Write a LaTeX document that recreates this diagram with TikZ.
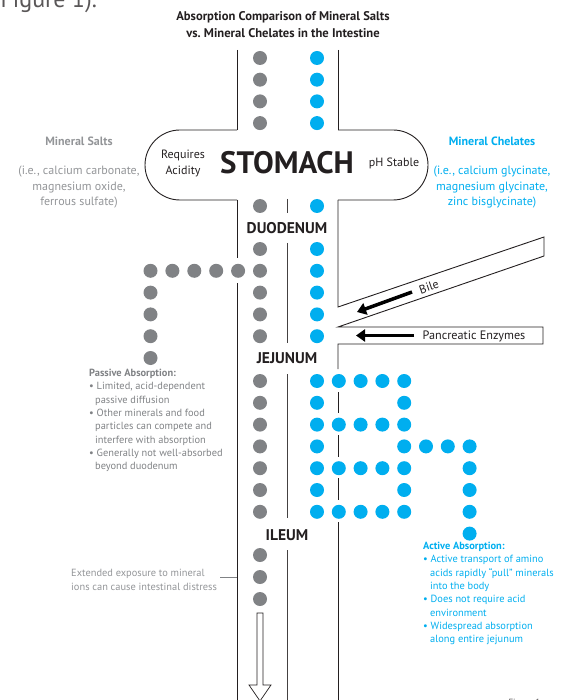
\documentclass[tikz,border=0pt]{standalone}
\usepackage{fontspec}
\setmainfont{PT Sans}
\usetikzlibrary{arrows.meta}
\definecolor{saltgray}{HTML}{808285}
\definecolor{labelgray}{HTML}{939598}
\definecolor{chelblue}{HTML}{00AEEF}
\definecolor{inkdark}{HTML}{231F20}
\tikzstyle{saltdot} = [circle, fill=saltgray, minimum size=14pt, inner sep=0pt]
\tikzstyle{chelatedot} = [circle, fill=chelblue, minimum size=14pt, inner sep=0pt]
\tikzstyle{wall} = [line width=0.9pt, draw=inkdark]
\tikzstyle{divider} = [line width=0.8pt, draw=inkdark!85]
\tikzstyle{organ} = [font=\fontsize{15.5}{16}\selectfont\bfseries, text=inkdark]
\tikzstyle{sidetext} = [font=\fontsize{12}{15.5}\selectfont, align=center]
\tikzstyle{notetext} = [font=\fontsize{10.4}{13.3}\selectfont, align=left, inner sep=0pt, anchor=north west]
\tikzstyle{flowarrow} = [line width=3.5pt, draw=black, -{Triangle[length=9pt,width=12pt]}]

\begin{document}
\begin{tikzpicture}[x=1pt, y=-1pt]
\useasboundingbox (0,0) rectangle (560,700);

% captions cut by the page edge
\node (figtop) [anchor=base west, font=\fontsize{24}{24}\selectfont, text=inkdark!75] at (-3,8) {Figure 1).};
\node (figbot) [anchor=north west, font=\fontsize{9}{9}\selectfont, text=inkdark!75] at (505,696) {Figure 1};

\node (title) [font=\fontsize{12.6}{17}\selectfont\bfseries, text=inkdark, align=center] at (283,24.5) {Absorption Comparison of Mineral Salts\\vs.\ Mineral Chelates in the Intestine};

% stomach and tract walls
\draw [wall] (237,50) -- (237,130);
\draw [wall] (338,50) -- (338,130);
\draw [wall, rounded corners=35pt] (237,130) -- (145,130) -- (145,200) -- (237,200);
\draw [wall, rounded corners=35pt] (338,130) -- (428,130) -- (428,200) -- (338,200);
\draw [wall] (237,200) -- (237,258);
\draw [wall] (237,283) -- (237,700);
\draw [wall] (338,200) -- (338,307) -- (544,237) -- (544,256) -- (338,327) -- (543,327) -- (543,344) -- (338,344) -- (338,369);
\draw [wall] (338,392) -- (338,413);
\draw [wall] (338,435) -- (338,457);
\draw [wall] (338,478) -- (338,500);
\draw [wall] (338,522) -- (338,700);

\draw [divider] (287,199) -- (287,213);
\draw [divider] (287,243) -- (287,343);
\draw [divider] (287,374) -- (287,518);
\draw [divider] (287,550) -- (287,700);

\node (stomach) [font=\fontsize{31}{31}\selectfont\bfseries, text=inkdark] at (287,163) {STOMACH};
\node (acid) [sidetext, text=inkdark, font=\fontsize{12}{16}\selectfont] at (183,163) {Requires\\Acidity};
\node (stable) [sidetext, text=inkdark] at (394,163) {pH Stable};
\node (duo) [organ] at (287,228) {DUODENUM};
\node (jej) [organ] at (287,358) {JEJUNUM};
\node (ile) [organ] at (287,535) {ILEUM};

\node (salts) [font=\fontsize{12}{12}\selectfont\bfseries, text=labelgray] at (79,141) {Mineral Salts};
\node (saltex) [sidetext, text=labelgray] at (79,187.5) {(i.e., calcium carbonate,\\magnesium oxide,\\ferrous sulfate)};
\node (chel) [font=\fontsize{12}{12}\selectfont\bfseries, text=chelblue] at (492,141) {Mineral Chelates};
\node (chelex) [sidetext, text=chelblue] at (492,187.5) {(i.e., calcium glycinate,\\magnesium glycinate,\\zinc bisglycinate)};

% mineral salts
\foreach \k in {0,...,3}
  \node (saltE\k) [saltdot] at (260,58+21.7*\k) {};
\node (saltS) [saltdot] at (260,206) {};
\foreach \k in {0,...,4}
  \node (saltD\k) [saltdot] at (260,249+21.8*\k) {};
\foreach \k in {1,...,5}
  \node (saltP\k) [saltdot] at (260-21.9*\k,270.8) {};
\foreach \k in {1,...,4}
  \node (saltQ\k) [saltdot] at (150.5,270.8+21.8*\k) {};
\foreach \k in {0,...,6}
  \node (saltJ\k) [saltdot] at (260,381+21.8*\k) {};
\foreach \k in {0,...,2}
  \node (saltI\k) [saltdot] at (260,555+22*\k) {};

% mineral chelates
\foreach \k in {0,...,3}
  \node (chelE\k) [chelatedot] at (317,58+21.7*\k) {};
\node (chelS) [chelatedot] at (317,206) {};
\foreach \k in {0,...,4}
  \node (chelD\k) [chelatedot] at (317,249+21.8*\k) {};
\foreach \c/\r in {0/0,1/0,2/0,3/0,4/0, 0/1,4/1, 0/2,1/2,2/2,3/2,4/2,
                   0/3,4/3,5/3,6/3,7/3, 0/4,1/4,2/4,3/4,4/4,7/4,
                   0/5,4/5,7/5, 0/6,1/6,2/6,3/6,4/6,7/6, 7/7}
  \node (chelJ\c\r) [chelatedot] at (317+21.8*\c,381+21.8*\r) {};

% bile and enzymes
\node (bile) [font=\fontsize{12}{12}\selectfont, text=inkdark, rotate=19] at (429,287) {Bile};
\coordinate (bileA) at (412,292);
\coordinate (bileB) at (357,312);
\draw [flowarrow] (bileA) -- (bileB);
\node (panc) [font=\fontsize{12.2}{12}\selectfont, text=inkdark] at (474,336) {Pancreatic Enzymes};
\coordinate (pancA) at (414,335.5);
\coordinate (pancB) at (356,335.5);
\draw [flowarrow] (pancA) -- (pancB);

% notes
\node (passive) [notetext, text=saltgray] at (89,369) {\textbf{Passive Absorption:}\\
  • Limited, acid-dependent\\\hspace*{6pt}passive diffusion\\
  • Other minerals and food\\\hspace*{6pt}particles can compete and\\\hspace*{6pt}interfere with absorption\\
  • Generally not well-absorbed\\\hspace*{6pt}beyond duodenum};
\node (active) [notetext, text=chelblue] at (423,542) {\textbf{Active Absorption:}\\
  • Active transport of amino\\\hspace*{7pt}acids rapidly “pull” minerals\\\hspace*{7pt}into the body\\
  • Does not require acid\\\hspace*{7pt}environment\\
  • Widespread absorption\\\hspace*{7pt}along entire jejunum};

\node (distress) [notetext, text=labelgray, anchor=west, inner sep=3pt] at (68,580) {Extended exposure to mineral\\ions can cause intestinal distress};
\coordinate (ilwall) at (237,577);
\draw [line width=0.8pt, draw=saltgray] (distress.east |- ilwall) -- (ilwall);

% what passes on
\draw [line width=0.7pt, draw=inkdark, fill=white] (257,613) -- (263,613) -- (263,685) -- (271,685) -- (260,701) -- (249,685) -- (257,685) -- cycle;

\end{tikzpicture}
\end{document}
